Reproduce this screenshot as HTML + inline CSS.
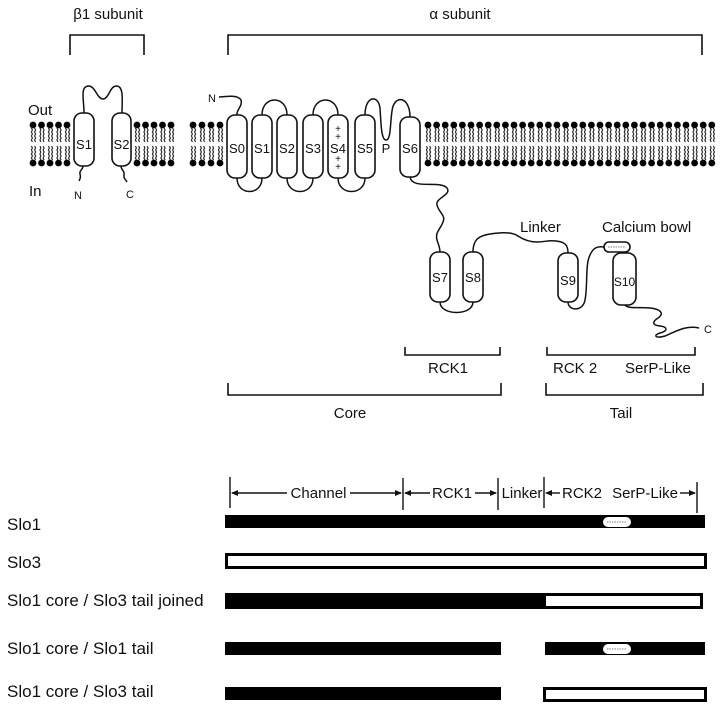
<!DOCTYPE html>
<html><head><meta charset="utf-8">
<style>
html,body{margin:0;padding:0;background:#fff;}
svg{display:block;}
text{font-family:"Liberation Sans",Arial,sans-serif;fill:#111;}
</style></head>
<body>
<svg width="720" height="706" viewBox="0 0 720 706" xmlns="http://www.w3.org/2000/svg">
<defs>
<g id="L">
<circle cx="0" cy="125" r="3.4" fill="#000"/>
<circle cx="0" cy="163" r="3.4" fill="#000"/>
<path d="M-1.6,128 l1,2 l-1,2 l1,2 l-1,2 l1,2 l-1,2 l1,2 M1.6,128 l1,2 l-1,2 l1,2 l-1,2 l1,2 l-1,2 l1,2 M-1.6,146 l1,2 l-1,2 l1,2 l-1,2 l1,2 l-1,2 l1,2 M1.6,146 l1,2 l-1,2 l1,2 l-1,2 l1,2 l-1,2 l1,2" stroke="#222" stroke-width="1.1" fill="none"/>
</g>
</defs>
<rect width="720" height="706" fill="#fff"/>

<!-- top labels and brackets -->
<text x="108" y="19" font-size="15" text-anchor="middle">β1 subunit</text>
<text x="460" y="19" font-size="15" text-anchor="middle">α subunit</text>
<g stroke="#111" stroke-width="1.6" fill="none">
<path d="M70,55 V35 H144 V55"/>
<path d="M228,55 V35 H702 V55"/>
</g>
<text x="28" y="115" font-size="15">Out</text>
<text x="29" y="196" font-size="15">In</text>

<!-- lipids -->
<use href="#L" x="33"/><use href="#L" x="41.5"/><use href="#L" x="50"/><use href="#L" x="58.5"/><use href="#L" x="67"/>
<use href="#L" x="137"/><use href="#L" x="145.5"/><use href="#L" x="154"/><use href="#L" x="162.5"/><use href="#L" x="171"/>
<use href="#L" x="193"/><use href="#L" x="202"/><use href="#L" x="211"/><use href="#L" x="220"/>
<use href="#L" x="428"/><use href="#L" x="436.6"/><use href="#L" x="445.2"/><use href="#L" x="453.8"/><use href="#L" x="462.4"/><use href="#L" x="471"/><use href="#L" x="479.6"/><use href="#L" x="488.2"/><use href="#L" x="496.8"/><use href="#L" x="505.4"/><use href="#L" x="514"/><use href="#L" x="522.6"/><use href="#L" x="531.2"/><use href="#L" x="539.8"/><use href="#L" x="548.4"/><use href="#L" x="557"/><use href="#L" x="565.6"/><use href="#L" x="574.2"/><use href="#L" x="582.8"/><use href="#L" x="591.4"/><use href="#L" x="600"/><use href="#L" x="608.6"/><use href="#L" x="617.2"/><use href="#L" x="625.8"/><use href="#L" x="634.4"/><use href="#L" x="643"/><use href="#L" x="651.6"/><use href="#L" x="660.2"/><use href="#L" x="668.8"/><use href="#L" x="677.4"/><use href="#L" x="686"/><use href="#L" x="694.6"/><use href="#L" x="703.2"/><use href="#L" x="711.8"/>

<!-- connecting lines -->
<g stroke="#111" stroke-width="1.5" fill="none">
<path d="M84,113 C84,100 80,87 88,86 C95,85 97,99 103,99 C109,99 110,85 117,86 C124,87 122,100 122,113"/>
<path d="M83,166 C83,170 79,170 80,174 C81,177 80,179 79,181"/>
<path d="M121,166 C121,170 125,171 124,175 C123,178 126,180 127,182"/>
<path d="M219,97 C228,96 238,95 241,100 C243,106 236,110 237,115"/>
<path d="M262,115 C262,95 287,95 287,115"/>
<path d="M313,115 C313,95 338,95 338,115"/>
<path d="M365,115 C365,96 378,94 380,108 C381,122 381,140 386,140 C391,140 390,124 392,111 C394,94 410,96 410,117"/>
<path d="M237,178 C237,196 262,196 262,178"/>
<path d="M287,178 C287,196 313,196 313,178"/>
<path d="M338,178 C338,196 365,196 365,178"/>
<path d="M410,177 C412,190 440,180 447,188 C452,195 435,198 437,205 C439,213 446,215 443,222 C440,230 435,232 437,240 C439,246 440,248 440,252"/>
<path d="M440,302 C440,316 473,316 473,302"/>
<path d="M473,252 C473,240 478,236 490,234 C502,232 512,232 518,236 C524,240 530,242 537,242 C545,242 548,240 556,241 C565,242 568,245 568,253"/>
<path d="M568,302 C568,311 583,312 585,300 C588,285 585,265 590,255 C593,248 597,246 604,247"/>
<path d="M622,252 V253"/>
<path d="M625,305 C628,309 640,307 650,308 C660,309 665,313 658,318 C652,322 652,325 660,326 C668,327 668,331 660,333 C653,335 655,339 665,336 C675,332 685,325 699,328"/>
</g>

<!-- helices -->
<g stroke="#111" stroke-width="1.6" fill="#fff">
<rect x="74" y="113" width="20" height="53" rx="8"/>
<rect x="112" y="113" width="19" height="53" rx="8"/>
<rect x="227" y="115" width="20" height="63" rx="8"/>
<rect x="252" y="115" width="20" height="63" rx="8"/>
<rect x="277" y="115" width="20" height="63" rx="8"/>
<rect x="303" y="115" width="20" height="63" rx="8"/>
<rect x="328" y="115" width="20" height="63" rx="8"/>
<rect x="355" y="115" width="20" height="63" rx="8"/>
<rect x="400" y="117" width="20" height="60" rx="8"/>
<rect x="430" y="252" width="20" height="50" rx="8"/>
<rect x="463" y="252" width="20" height="50" rx="8"/>
<rect x="558" y="253" width="20" height="49" rx="8"/>
<rect x="613" y="253" width="23" height="52" rx="8"/>
<rect x="604" y="242" width="26" height="10" rx="5"/>
</g>
<path d="M608,247 H626" stroke="#555" stroke-width="0.8" stroke-dasharray="1.5,1"/>

<g font-size="13" text-anchor="middle">
<text x="84" y="149">S1</text>
<text x="121.5" y="149">S2</text>
<text x="237" y="153">S0</text>
<text x="262" y="153">S1</text>
<text x="287" y="153">S2</text>
<text x="313" y="153">S3</text>
<text x="338" y="153">S4</text>
<text x="365" y="153">S5</text>
<text x="386" y="153">P</text>
<text x="410" y="153">S6</text>
<text x="440" y="282">S7</text>
<text x="473" y="282">S8</text>
<text x="568" y="285">S9</text>
<text x="624.5" y="286" font-size="12">S10</text>
</g>
<g font-size="10" text-anchor="middle">
<text x="338" y="132">+</text>
<text x="338" y="140">+</text>
<text x="338" y="162">+</text>
<text x="338" y="170">+</text>
</g>
<g font-size="11" text-anchor="middle">
<text x="78" y="199">N</text>
<text x="130" y="198">C</text>
<text x="212" y="102">N</text>
<text x="708" y="333">C</text>
</g>

<text x="520" y="232" font-size="15">Linker</text>
<text x="602" y="232" font-size="15">Calcium bowl</text>

<!-- domain brackets -->
<g stroke="#111" stroke-width="1.6" fill="none">
<path d="M405,347 V355 H500 V347"/>
<path d="M547,347 V355 H695 V347"/>
<path d="M228,383 V395 H501 V383"/>
<path d="M546,383 V395 H703 V383"/>
</g>
<text x="448" y="373" font-size="15" text-anchor="middle">RCK1</text>
<text x="553" y="373" font-size="15">RCK 2</text>
<text x="625" y="373" font-size="15">SerP-Like</text>
<text x="350" y="418" font-size="15" text-anchor="middle">Core</text>
<text x="621" y="418" font-size="15" text-anchor="middle">Tail</text>

<!-- scale row -->
<g stroke="#111" stroke-width="1.4" fill="none">
<path d="M230,477 V508"/>
<path d="M403,478 V510"/>
<path d="M498,478 V510"/>
<path d="M544,477 V508"/>
<path d="M697,482 V513"/>
<path d="M232,493 H287"/>
<path d="M350,493 H401"/>
<path d="M405,493 H430"/>
<path d="M475,493 H496"/>
<path d="M546,493 H560"/>
<path d="M680,493 H695"/>
</g>
<g fill="#111">
<path d="M231,493 l7,-3 v6 z"/>
<path d="M402,493 l-7,-3 v6 z"/>
<path d="M404,493 l7,-3 v6 z"/>
<path d="M497,493 l-7,-3 v6 z"/>
<path d="M545,493 l7,-3 v6 z"/>
<path d="M696,493 l-7,-3 v6 z"/>
</g>
<g font-size="15" text-anchor="middle">
<text x="318.5" y="498">Channel</text>
<text x="452" y="498">RCK1</text>
<text x="522" y="498">Linker</text>
<text x="582" y="498">RCK2</text>
<text x="645" y="498">SerP-Like</text>
</g>

<!-- bars -->
<g font-size="17">
<text x="7" y="530">Slo1</text>
<text x="7" y="568">Slo3</text>
<text x="7" y="606">Slo1 core / Slo3 tail joined</text>
<text x="7" y="654">Slo1 core / Slo1 tail</text>
<text x="7" y="697">Slo1 core / Slo3 tail</text>
</g>
<rect x="225" y="515" width="480" height="13" fill="#000"/>
<rect x="603" y="517" width="28" height="10" rx="5" fill="#fff"/>
<path d="M607,522 H627" stroke="#555" stroke-width="0.8" stroke-dasharray="1.5,1"/>

<rect x="226.5" y="554.5" width="479" height="13" fill="#fff" stroke="#000" stroke-width="3"/>

<rect x="225" y="593" width="478" height="16" fill="#000"/>
<rect x="546" y="596" width="154" height="10" fill="#fff"/>

<rect x="225" y="642" width="276" height="13" fill="#000"/>
<rect x="545" y="642" width="160" height="13" fill="#000"/>
<rect x="603" y="644" width="28" height="10" rx="5" fill="#fff"/>
<path d="M607,649 H627" stroke="#555" stroke-width="0.8" stroke-dasharray="1.5,1"/>

<rect x="225" y="687" width="276" height="13" fill="#000"/>
<rect x="544.5" y="688.5" width="161" height="12" fill="#fff" stroke="#000" stroke-width="3"/>
</svg>
</body></html>
